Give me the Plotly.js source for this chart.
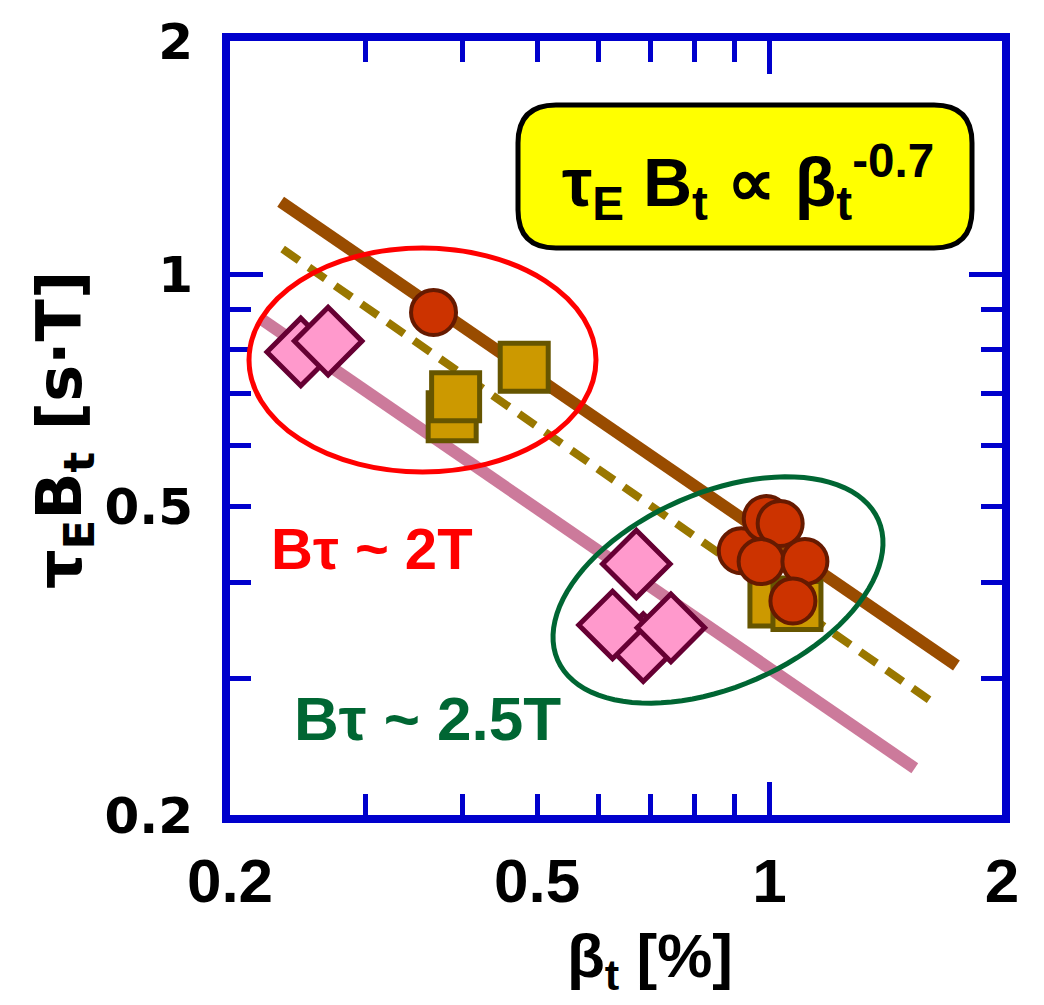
<!DOCTYPE html>
<html>
<head>
<meta charset="utf-8">
<script src="https://cdn.plot.ly/plotly-3.0.1.min.js"></script>
<style>html,body{margin:0;padding:0;background:#fff;}#chart{width:1044px;height:1005px;}</style>
</head>
<body>
<div id="chart"></div>
<script>
// ---- data ----
const xTickVals = [0.2, 0.5, 1, 2];
const xTickText = ['0.2', '0.5', '1', '2'];
const yTickVals = [0.2, 0.5, 1, 2];
const yTickText = ['0.2', '0.5', '1', '2'];
const minorTickVals = [0.3, 0.4, 0.5, 0.6, 0.7, 0.8, 0.9];
const majorTickVals = [1];

const brownX = [0.2326, 1.746];
const brownY = [1.240, 0.312];
const dashX = [0.234, 1.646];
const dashY = [1.077, 0.2774];
const pinkX = [0.219, 1.542];
const pinkY = [0.876, 0.2298];

const squareX = [0.388, 0.392, 0.481, 1.013, 1.085];
const squareY = [0.654, 0.694, 0.758, 0.377, 0.373];

const circleX = [0.367, 0.919, 0.990, 1.032, 0.975, 1.111, 1.072];
const circleY = [0.892, 0.439, 0.483, 0.476, 0.425, 0.425, 0.378];

const diamondX = [0.247, 0.268, 0.686, 0.672, 0.626, 0.745];
const diamondY = [0.793, 0.819, 0.329, 0.422, 0.352, 0.349];

const boxText = 'τ<sub>E</sub> B<sub>t</sub> ∝ β<sub>t</sub><sup>-0.7</sup>';
const label2T = 'Bτ ~ 2T';
const label25T = 'Bτ ~ 2.5T';
const yTitle = 'τ<sub>E</sub>B<sub>t</sub> [s·T]';
const xTitle = 'β<sub>t</sub> [%]';

// ---- layout geometry ----
const W = 1044, H = 1005, ML = 230, MR = 42, MT = 41, MB = 190;
const PW = W - ML - MR, PH = H - MT - MB;
function fx(p) { return (p - ML) / PW; }
function fy(p) { return (H - MB - p) / PH; }
const BLUE = '#0000cc';
const RANGE = [Math.log10(0.2), Math.log10(2)];
const ARIAL = 'Liberation Sans, Arial, sans-serif';

// rounded box path (paper coords)
function roundRect(x0, y0, x1, y1, r) {
  const P = (x, y) => fx(x).toFixed(5) + ',' + fy(y).toFixed(5);
  return 'M' + P(x0 + r, y0) + ' L' + P(x1 - r, y0) + ' Q' + P(x1, y0) + ' ' + P(x1, y0 + r) +
    ' L' + P(x1, y1 - r) + ' Q' + P(x1, y1) + ' ' + P(x1 - r, y1) +
    ' L' + P(x0 + r, y1) + ' Q' + P(x0, y1) + ' ' + P(x0, y1 - r) +
    ' L' + P(x0, y0 + r) + ' Q' + P(x0, y0) + ' ' + P(x0 + r, y0) + ' Z';
}
// tilted ellipse outline (paper coords)
function tiltedEllipse(cx, cy, a, b, deg) {
  const th = deg * Math.PI / 180;
  let s = '';
  for (let i = 0; i <= 96; i++) {
    const t = 2 * Math.PI * i / 96;
    const x = cx + a * Math.cos(t) * Math.cos(th) - b * Math.sin(t) * Math.sin(th);
    const y = cy - (a * Math.cos(t) * Math.sin(th) + b * Math.sin(t) * Math.cos(th));
    s += (i === 0 ? 'M' : ' L') + fx(x).toFixed(5) + ',' + fy(y).toFixed(5);
  }
  return s + ' Z';
}

const traces = [
  {x: pinkX, y: pinkY, mode: 'lines', line: {color: '#cc7a9b', width: 12}},
  {x: dashX, y: dashY, mode: 'lines', line: {color: '#997700', width: 8, dash: '20px,12px'}},
  {x: brownX, y: brownY, mode: 'lines', line: {color: '#994c00', width: 12}},
  {x: squareX, y: squareY, mode: 'markers',
   marker: {symbol: 'square', size: 48, color: '#cc9900', line: {color: '#665500', width: 5}}},
  {x: circleX, y: circleY, mode: 'markers',
   marker: {symbol: 'circle', size: 45, color: '#cc3300', line: {color: '#661a00', width: 4}}},
  {x: diamondX, y: diamondY, mode: 'markers',
   marker: {symbol: 'diamond', size: 52, color: '#ff99cc', line: {color: '#660033', width: 5}}},
  {x: [], y: [], xaxis: 'x2', yaxis: 'y2', mode: 'markers'}
];

const tickAxisCommon = {
  type: 'log', range: RANGE, showline: true, linecolor: BLUE, linewidth: 8,
  mirror: 'ticks', ticks: 'inside', tickmode: 'array', tickvals: majorTickVals,
  ticklen: 33, tickwidth: 5, tickcolor: BLUE, showticklabels: false,
  showgrid: false, zeroline: false, fixedrange: true,
  minor: {ticks: 'inside', tickmode: 'array', tickvals: minorTickVals, ticklen: 21,
          tickwidth: 5, tickcolor: BLUE, showgrid: false}
};

const layout = {
  width: W, height: H,
  margin: {l: ML, r: MR, t: MT, b: MB, pad: 0},
  paper_bgcolor: '#ffffff', plot_bgcolor: '#ffffff',
  showlegend: false, hovermode: false,
  xaxis: Object.assign({}, tickAxisCommon),
  yaxis: Object.assign({}, tickAxisCommon),
  xaxis2: {
    type: 'log', range: RANGE, overlaying: 'x', side: 'bottom', anchor: 'y',
    showline: false, ticks: '', tickmode: 'array', tickvals: xTickVals, ticktext: xTickText,
    tickfont: {family: ARIAL, size: 62, weight: 'bold', color: '#000'},
    ticklabelstandoff: 24, showgrid: false, zeroline: false, fixedrange: true
  },
  yaxis2: {
    type: 'log', range: RANGE, overlaying: 'y', side: 'left', anchor: 'x',
    showline: false, ticks: '', tickmode: 'array', tickvals: yTickVals, ticktext: yTickText,
    tickfont: {family: 'DejaVu Sans, sans-serif', size: 50, weight: 'bold', color: '#000'},
    ticklabelstandoff: 36, showgrid: false, zeroline: false, fixedrange: true
  },
  shapes: [
    {type: 'circle', xref: 'paper', yref: 'paper', layer: 'above',
     x0: fx(249), x1: fx(596), y0: fy(472), y1: fy(248),
     line: {color: '#ff0000', width: 5}},
    {type: 'path', xref: 'paper', yref: 'paper', layer: 'above',
     path: tiltedEllipse(718, 590, 175, 97, 23.6),
     line: {color: '#006633', width: 5}},
    {type: 'path', xref: 'paper', yref: 'paper', layer: 'above',
     path: roundRect(518, 105, 972, 248, 38),
     fillcolor: '#ffff00', line: {color: '#000000', width: 5}}
  ],
  annotations: [
    {xref: 'paper', yref: 'paper', x: fx(748), y: fy(182), showarrow: false,
     xanchor: 'center', yanchor: 'middle', text: boxText,
     font: {family: ARIAL, size: 68, weight: 'bold', color: '#000'}},
    {xref: 'paper', yref: 'paper', x: fx(372), y: fy(548), showarrow: false,
     xanchor: 'center', yanchor: 'middle', text: label2T,
     font: {family: ARIAL, size: 58, weight: 'bold', color: '#ff0000'}},
    {xref: 'paper', yref: 'paper', x: fx(427), y: fy(718), showarrow: false,
     xanchor: 'center', yanchor: 'middle', text: label25T,
     font: {family: ARIAL, size: 62, weight: 'bold', color: '#006633'}},
    {xref: 'paper', yref: 'paper', x: fx(63), y: fy(430), showarrow: false, textangle: -90,
     xanchor: 'center', yanchor: 'middle', text: yTitle,
     font: {family: 'DejaVu Sans, sans-serif', size: 62, weight: 'bold', color: '#000'}},
    {xref: 'paper', yref: 'paper', x: fx(650), y: fy(960), showarrow: false,
     xanchor: 'center', yanchor: 'middle', text: xTitle,
     font: {family: ARIAL, size: 62, weight: 'bold', color: '#000'}}
  ]
};

Plotly.newPlot('chart', traces, layout, {displayModeBar: false, staticPlot: true});
</script>
</body>
</html>
